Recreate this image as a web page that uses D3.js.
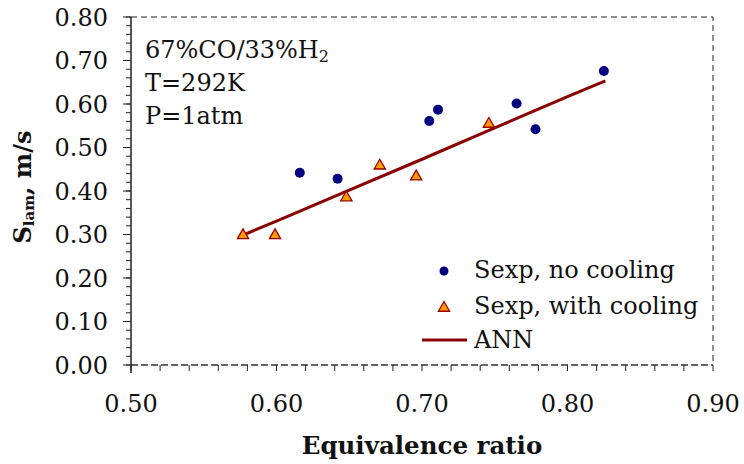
<!DOCTYPE html>
<html>
<head>
<meta charset="utf-8">
<script src="https://cdn.jsdelivr.net/npm/d3@7"></script>
<style>
  body { margin: 0; background: #fff; }
  svg { display: block; font-family: "DejaVu Serif", serif; }
</style>
</head>
<body>
<div id="chart"></div>
<script>
// measured points, no cooling
const noCoolX = [0.616, 0.642, 0.705, 0.711, 0.765, 0.778, 0.825];
const noCoolY = [0.442, 0.428, 0.561, 0.587, 0.601, 0.542, 0.676];

// measured points, with cooling
const coolX = [0.577, 0.599, 0.648, 0.671, 0.696, 0.746];
const coolY = [0.298, 0.298, 0.385, 0.458, 0.433, 0.554];

// ANN prediction
const annX = [0.578, 0.600, 0.650, 0.700, 0.750, 0.800, 0.826];
const annY = [0.300, 0.331, 0.402, 0.473, 0.545, 0.617, 0.653];

const xTicks = [0.5, 0.6, 0.7, 0.8, 0.9];
const yTicks = [0, 0.1, 0.2, 0.3, 0.4, 0.5, 0.6, 0.7, 0.8];

const width = 744, height = 464;
const margin = { left: 131, top: 17, right: 31, bottom: 99 };
const w = width - margin.left - margin.right;
const h = height - margin.top - margin.bottom;

const svg = d3.select('#chart').append('svg')
  .attr('width', width)
  .attr('height', height);

const g = svg.append('g')
  .attr('transform', `translate(${margin.left},${margin.top})`);

const x = d3.scaleLinear().domain([0.5, 0.9]).range([0, w]);
const y = d3.scaleLinear().domain([0, 0.8]).range([h, 0]);

// dashed frame on top and right
g.append('path')
  .attr('d', `M0,0H${w}V${h}`)
  .attr('fill', 'none')
  .attr('stroke', '#222')
  .attr('stroke-width', 1)
  .attr('stroke-dasharray', '6,4');

// x axis
const xAxis = g.append('g').attr('transform', `translate(0,${h})`);
xAxis.append('line')
  .attr('x1', 0).attr('x2', w)
  .attr('stroke', '#333').attr('stroke-width', 1.5)
  .attr('stroke-dasharray', '7,3');
xAxis.selectAll('.minor')
  .data(d3.range(0.5, 0.9001, 0.02))
  .join('line')
  .attr('class', 'minor')
  .attr('x1', d => x(d)).attr('x2', d => x(d))
  .attr('y1', 0).attr('y2', 6)
  .attr('stroke', '#222').attr('stroke-width', 1);
xAxis.selectAll('text')
  .data(xTicks)
  .join('text')
  .attr('x', d => x(d))
  .attr('y', 47)
  .attr('text-anchor', 'middle')
  .attr('font-size', 24)
  .attr('fill', '#111')
  .text(d3.format('.2f'));

// y axis
const yAxis = g.append('g');
yAxis.append('line')
  .attr('y1', 0).attr('y2', h + 8)
  .attr('stroke', '#222').attr('stroke-width', 1.5);
yAxis.selectAll('.minor')
  .data(d3.range(0, 0.8001, 0.02))
  .join('line')
  .attr('class', 'minor')
  .attr('y1', d => y(d)).attr('y2', d => y(d))
  .attr('x1', -5).attr('x2', 0)
  .attr('stroke', '#222').attr('stroke-width', 1);
yAxis.selectAll('.major')
  .data(yTicks)
  .join('line')
  .attr('class', 'major')
  .attr('y1', d => y(d)).attr('y2', d => y(d))
  .attr('x1', -8).attr('x2', 0)
  .attr('stroke', '#222').attr('stroke-width', 1);
yAxis.selectAll('text')
  .data(yTicks)
  .join('text')
  .attr('x', -23)
  .attr('y', d => y(d))
  .attr('dy', '0.36em')
  .attr('text-anchor', 'end')
  .attr('font-size', 24)
  .attr('fill', '#111')
  .text(d3.format('.2f'));

// axis titles
svg.append('text')
  .attr('x', 422)
  .attr('y', 454)
  .attr('text-anchor', 'middle')
  .attr('font-size', 24.5)
  .attr('font-weight', 'bold')
  .attr('fill', '#111')
  .text('Equivalence ratio');

const yTitle = svg.append('text')
  .attr('transform', 'translate(31,187) rotate(-90)')
  .attr('text-anchor', 'middle')
  .attr('font-size', 24)
  .attr('font-weight', 'bold')
  .attr('fill', '#111');
yTitle.append('tspan').text('S');
yTitle.append('tspan').attr('font-size', 15).attr('dy', 3).text('lam');
yTitle.append('tspan').attr('dy', -3).text(', m/s');

// conditions note
const note = g.append('g').attr('font-size', 24).attr('fill', '#111');
const l1 = note.append('text').attr('x', 14).attr('y', 41);
l1.append('tspan').text('67%CO/33%H');
l1.append('tspan').attr('font-size', 16).attr('dy', 4).text('2');
note.append('text').attr('x', 14).attr('y', 74).text('T=292K');
note.append('text').attr('x', 14).attr('y', 107).text('P=1atm');

// ANN line
const line = d3.line()
  .x((d, i) => x(annX[i]))
  .y((d, i) => y(annY[i]));
g.append('path')
  .datum(annY)
  .attr('d', line)
  .attr('fill', 'none')
  .attr('stroke', '#8b0000')
  .attr('stroke-width', 3);

const tri = d3.symbol().type(d3.symbolTriangle).size(55);

g.selectAll('.cool')
  .data(coolX)
  .join('path')
  .attr('class', 'cool')
  .attr('d', tri)
  .attr('transform', (d, i) => `translate(${x(d)},${y(coolY[i])})`)
  .attr('fill', '#ff9900')
  .attr('stroke', '#990000')
  .attr('stroke-width', 1.3);

g.selectAll('.nocool')
  .data(noCoolX)
  .join('circle')
  .attr('class', 'nocool')
  .attr('cx', d => x(d))
  .attr('cy', (d, i) => y(noCoolY[i]))
  .attr('r', 5)
  .attr('fill', '#000080');

// legend
const leg = svg.append('g').attr('font-size', 24).attr('fill', '#111');
leg.append('circle').attr('cx', 444).attr('cy', 271).attr('r', 4.5).attr('fill', '#000080');
leg.append('text').attr('x', 474).attr('y', 278).text('Sexp, no cooling');
leg.append('path').attr('d', tri)
  .attr('transform', 'translate(444,308)')
  .attr('fill', '#ff9900').attr('stroke', '#990000').attr('stroke-width', 1.3);
leg.append('text').attr('x', 474).attr('y', 314).text('Sexp, with cooling');
leg.append('line').attr('x1', 422).attr('x2', 467).attr('y1', 340).attr('y2', 340)
  .attr('stroke', '#8b0000').attr('stroke-width', 3);
leg.append('text').attr('x', 474).attr('y', 348).text('ANN');
</script>
</body>
</html>
